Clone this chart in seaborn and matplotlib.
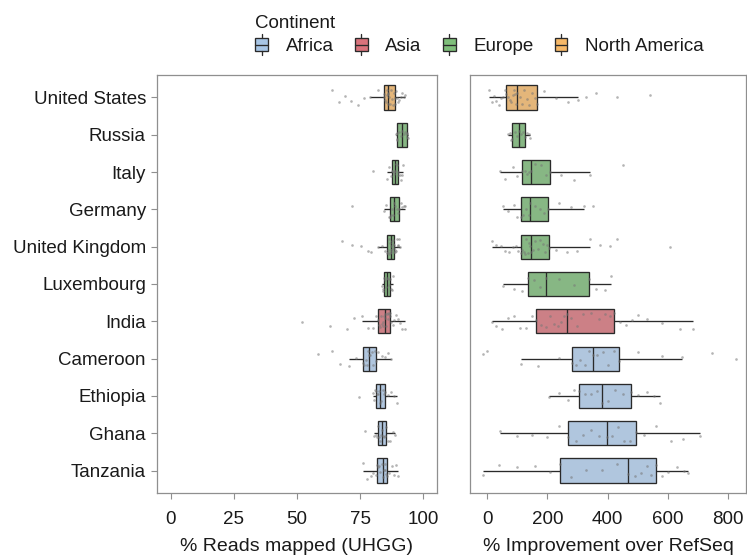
import numpy as np
import pandas as pd
import matplotlib
matplotlib.use("Agg")
import matplotlib.pyplot as plt
import seaborn as sns
from matplotlib.legend_handler import HandlerBase
from matplotlib.patches import Rectangle, Patch
from matplotlib.lines import Line2D

# ---------------- data ----------------
countries = ["United States", "Russia", "Italy", "Germany", "United Kingdom",
             "Luxembourg", "India", "Cameroon", "Ethiopia", "Ghana", "Tanzania"]
country_continent = ["North America", "Europe", "Europe", "Europe", "Europe",
                     "Europe", "Asia", "Africa", "Africa", "Africa", "Africa"]
continent_order = ["Africa", "Asia", "Europe", "North America"]
continent_colors = ["#a8c6e6", "#d9737c", "#7fbf7b", "#f6b868"]

# % Reads mapped (UHGG)
mapped_us = [63.8, 66.5, 69.0, 71.5, 74.0, 76.5, 79.0, 82.0, 84.3, 84.6, 84.9, 85.2, 85.5, 85.7, 85.9, 86.0,
             86.2, 86.5, 86.9, 87.3, 87.7, 88.1, 88.4, 88.7, 88.9, 89.3, 89.7, 90.1, 90.6, 91.1, 91.7, 92.3, 92.9]
mapped_russia = [89.3, 89.5, 89.7, 89.8, 90.4, 91.1, 91.8, 92.3, 92.9, 93.5, 93.6, 93.8, 93.9]
mapped_italy = [80.0, 85.6, 86.5, 87.1, 87.6, 88.0, 88.3, 88.6, 88.9, 89.2, 89.5, 89.9, 90.2, 90.7, 91.2, 91.7, 92.2]
mapped_germany = [72.0, 84.3, 85.4, 86.3, 86.9, 87.4, 87.8, 88.2, 88.6, 89.0, 89.5, 90.0, 90.5, 91.1, 91.7, 92.3, 92.9]
mapped_uk = [67.7, 72.0, 75.5, 78.0, 79.5, 82.0, 83.8, 84.9, 85.8, 86.0, 86.2, 86.4, 86.6, 86.8, 86.9, 87.1,
             87.2, 87.4, 87.6, 87.8, 88.0, 88.2, 88.3, 88.5, 88.6, 88.8, 89.0, 89.3, 89.6, 89.9, 90.2, 90.5, 90.9]
mapped_luxembourg = [83.6, 83.9, 84.1, 84.3, 84.7, 85.2, 85.6, 86.0, 86.5, 86.9, 87.3, 87.7, 88.0]
mapped_india = [51.9, 63.0, 69.7, 72.5, 75.6, 78.0, 80.0, 81.5, 82.3, 82.6, 83.0, 83.3, 83.6, 83.9, 84.2, 84.5,
                84.7, 85.0, 85.3, 85.6, 85.9, 86.2, 86.5, 86.7, 86.9, 87.4, 88.0, 88.6, 89.3, 90.0, 90.8, 91.8, 92.9]
mapped_cameroon = [58.5, 63.8, 67.0, 70.8, 73.5, 76.0, 76.6, 77.2, 77.7, 78.2, 78.6, 79.1, 79.6, 80.2, 80.8,
                   81.3, 82.3, 83.5, 84.8, 86.0, 87.2]
mapped_ethiopia = [74.7, 80.0, 80.5, 81.0, 81.3, 81.7, 82.1, 82.5, 82.9, 83.4, 83.9, 84.4, 84.9, 86.0, 87.2, 88.4, 89.6]
mapped_ghana = [77.0, 80.6, 81.3, 81.9, 82.3, 82.6, 82.9, 83.3, 83.6, 84.0, 84.4, 84.8, 85.2, 86.1, 87.0, 88.0, 88.9]
mapped_tanzania = [76.3, 77.8, 79.2, 80.3, 81.2, 81.9, 82.3, 82.7, 83.1, 83.5, 83.9, 84.3, 84.7, 85.0, 85.4,
                   85.8, 86.6, 87.5, 88.4, 89.3, 90.2]

# % Improvement over RefSeq
improve_us = [7, 15, 22, 30, 38, 45, 52, 58, 64, 70, 75, 80, 85, 89, 93, 97,
              100, 108, 115, 123, 132, 140, 150, 158, 166, 190, 230, 270, 302, 330, 363, 430, 540]
improve_russia = [68, 75, 80, 84, 92, 100, 106, 112, 120, 127, 133, 138, 142]
improve_italy = [42, 60, 85, 100, 116, 125, 132, 140, 145, 160, 178, 195, 208, 245, 290, 341, 452]
improve_germany = [53, 70, 88, 100, 111, 120, 130, 138, 144, 158, 175, 190, 203, 240, 280, 321, 352]
improve_uk = [15, 30, 45, 60, 72, 85, 95, 104, 111, 116, 121, 126, 130, 135, 139, 142,
              145, 152, 160, 168, 176, 184, 192, 199, 206, 230, 265, 300, 341, 374, 407, 430, 606]
improve_luxembourg = [53, 90, 115, 136, 155, 175, 195, 240, 290, 338, 360, 390, 413]
improve_india = [15, 30, 50, 70, 90, 110, 130, 148, 162, 180, 195, 210, 222, 235, 245, 255,
                 264, 280, 300, 320, 345, 370, 390, 408, 422, 440, 460, 480, 500, 530, 580, 640, 684]
improve_cameroon = [-13, 0, 111, 170, 240, 283, 295, 310, 325, 340, 352, 365, 385, 400, 420,
                    437, 500, 580, 649, 747, 826]
improve_ethiopia = [206, 240, 270, 290, 305, 325, 345, 365, 382, 400, 425, 450, 477, 500, 530, 555, 573]
improve_ghana = [44, 100, 150, 200, 240, 269, 295, 320, 345, 370, 397, 415, 435, 455, 475,
                 494, 520, 560, 610, 650, 706]
improve_tanzania = [-15, 40, 100, 160, 210, 241, 280, 330, 380, 430, 469, 490, 510, 530, 545,
                    560, 580, 600, 630, 655, 668]

mapped_lists = [mapped_us, mapped_russia, mapped_italy, mapped_germany, mapped_uk, mapped_luxembourg,
                mapped_india, mapped_cameroon, mapped_ethiopia, mapped_ghana, mapped_tanzania]
improve_lists = [improve_us, improve_russia, improve_italy, improve_germany, improve_uk, improve_luxembourg,
                 improve_india, improve_cameroon, improve_ethiopia, improve_ghana, improve_tanzania]


def build_frame(lists):
    rows = []
    for c, cont, vals in zip(countries, country_continent, lists):
        for v in vals:
            rows.append((c, cont, v))
    return pd.DataFrame(rows, columns=["country", "continent", "value"])


df_mapped = build_frame(mapped_lists)
df_improve = build_frame(improve_lists)

# ---------------- style ----------------
sns.set_style("white")
plt.rcParams["font.family"] = ["Liberation Sans", "DejaVu Sans"]
TXT = "#1a1a1a"
SPINE = "#8f8f8f"
FS = 13.5

fig = plt.figure(figsize=(7.47, 5.57), dpi=100)
W, H = 747, 557
ax1 = fig.add_axes([157 / W, 1 - 493 / H, (437 - 157) / W, (493 - 75) / H])
ax2 = fig.add_axes([470 / W, 1 - 493 / H, (746 - 470) / W, (493 - 75) / H])

for ax, df, xlim, xticks, xlabel in [
    (ax1, df_mapped, (-5.5, 105.5), [0, 25, 50, 75, 100], "% Reads mapped (UHGG)"),
    (ax2, df_improve, (-57, 860), [0, 200, 400, 600, 800], "% Improvement over RefSeq"),
]:
    sns.boxplot(data=df, x="value", y="country", hue="continent", order=countries,
                hue_order=continent_order, palette=continent_colors, dodge=False,
                width=0.65, showfliers=False, showcaps=False, linewidth=0.95, linecolor="#2a2a2a",
                legend=False, ax=ax)
    np.random.seed(7)
    sns.stripplot(data=df, x="value", y="country", order=countries, color="#777777",
                  size=1.9, alpha=0.55, jitter=0.22, linewidth=0, ax=ax, zorder=4)
    ax.set_xlim(*xlim)
    ax.set_ylim(10.6, -0.6)
    ax.set_xticks(xticks)
    ax.set_xticklabels([str(t) for t in xticks])
    ax.set_xlabel(xlabel, fontsize=14, color=TXT, labelpad=7.5)
    ax.set_ylabel("")
    for s in ax.spines.values():
        s.set_visible(True)
        s.set_color(SPINE)
        s.set_linewidth(0.9)
    ax.tick_params(axis="both", colors=SPINE, labelcolor=TXT, labelsize=FS, length=4, width=0.8,
                   direction="out")
    ax.tick_params(axis="x", bottom=True, pad=9)

ax1.tick_params(axis="y", left=True, pad=4)
ax2.tick_params(axis="y", left=False, labelleft=False)


# ---------------- legend ----------------
class BoxKeyHandler(HandlerBase):
    def create_artists(self, legend, orig_handle, xdescent, ydescent, width, height, fontsize, trans):
        x0, y0 = -xdescent, -ydescent
        fc = orig_handle.get_facecolor()
        ec = "#2a2a2a"
        rect = Rectangle((x0, y0 + 0.02 * height), width, 0.96 * height,
                         facecolor=fc, edgecolor=ec, linewidth=0.95, transform=trans)
        med = Line2D([x0, x0 + width], [y0 + 0.5 * height] * 2, color=ec, linewidth=0.95, transform=trans)
        whisk_top = Line2D([x0 + width / 2] * 2, [y0 + 0.98 * height, y0 + 1.3 * height],
                           color=ec, linewidth=0.95, transform=trans)
        whisk_bot = Line2D([x0 + width / 2] * 2, [y0 - 0.3 * height, y0 + 0.02 * height],
                           color=ec, linewidth=0.95, transform=trans)
        return [rect, med, whisk_top, whisk_bot]


handles = [Patch(facecolor=c, edgecolor="#2a2a2a") for c in continent_colors]
leg = fig.legend(handles, continent_order, title="Continent", ncol=4, loc="upper left",
                 bbox_to_anchor=(244 / W, 1 - 4 / H), frameon=False, alignment="left",
                 handlelength=0.68, handleheight=0.72, handletextpad=0.95, columnspacing=1.12,
                 labelspacing=0.3, fontsize=FS, title_fontsize=FS, borderaxespad=0.2,
                 handler_map={Patch: BoxKeyHandler()})
for t in leg.get_texts():
    t.set_color(TXT)
leg.get_title().set_color(TXT)

fig.savefig("out.png", dpi=100, facecolor="white")
